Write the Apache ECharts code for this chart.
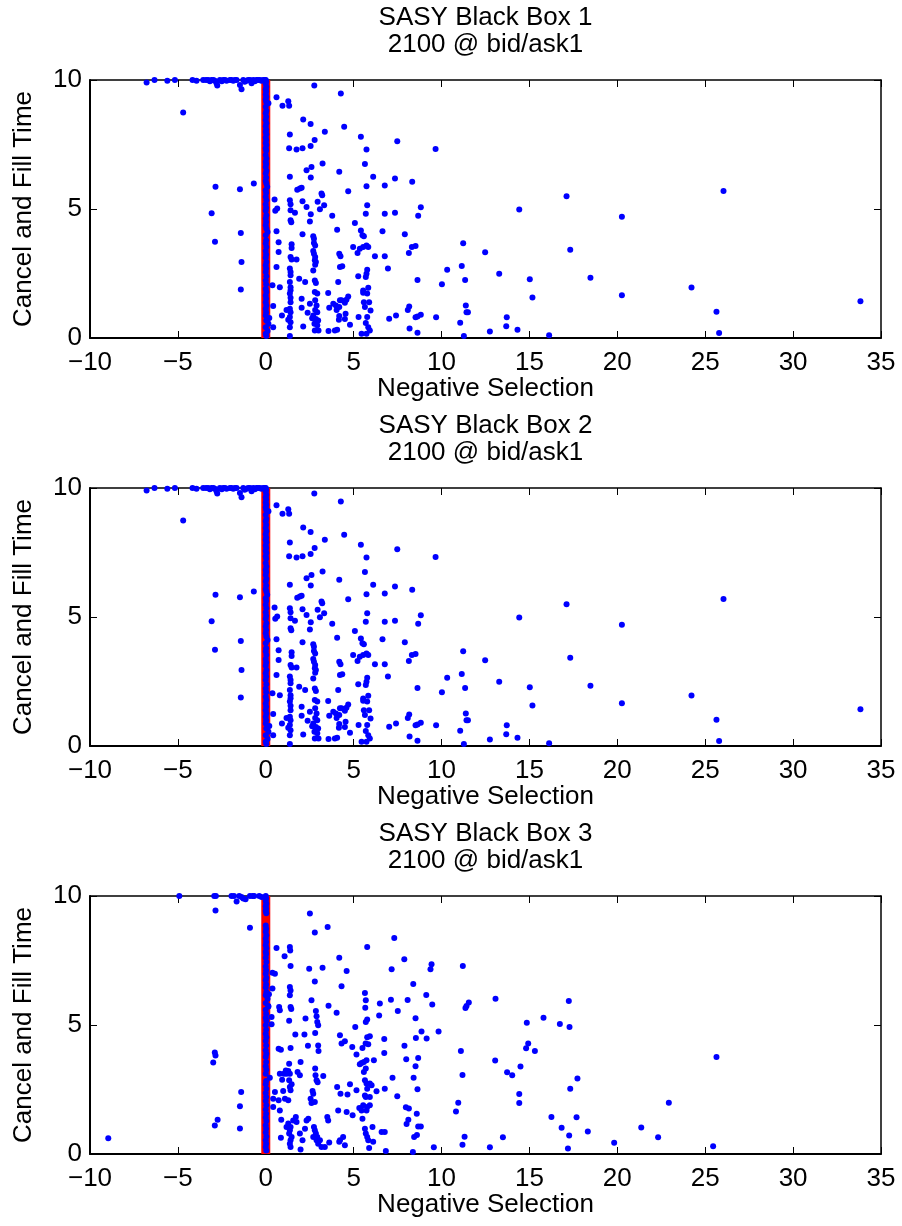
<!DOCTYPE html>
<html>
<head>
<meta charset="utf-8">
<script src="https://cdn.jsdelivr.net/npm/echarts@6/dist/echarts.min.js"></script>
<style>
html, body { margin: 0; padding: 0; background: #fff; }
#chart { width: 902px; height: 1226px; }
</style>
</head>
<body>
<div id="chart"></div>
<script>
// ---- texts ----
const panelTitles = ['SASY Black Box 1', 'SASY Black Box 2', 'SASY Black Box 3'];
const panelSubtitle = '2100 @ bid/ask1';
const xAxisTitle = 'Negative Selection';
const yAxisTitle = 'Cancel and Fill Time';

// ---- axis ranges / tick steps ----
const xRange = [-10, 35];
const xStep = 5;
const yRange = [0, 10];
const yStep = 5;

// ---- boxes 1 and 2: negative side (incl. the row capped at 10) ----
const box12Left = [
  [-6.78,9.90],[-6.33,10.0],[-5.60,9.97],[-5.17,10.0],[-4.17,10.0],[-3.94,9.97],[-3.56,10.0],
  [-3.40,10.0],[-3.28,10.0],[-3.18,9.95],[-3.09,10.0],[-2.98,10.0],[-2.90,9.97],[-2.80,9.87],
  [-2.76,9.79],[-2.61,10.0],[-2.50,9.95],[-2.42,10.0],[-2.32,10.0],[-2.23,9.97],[-2.04,10.0],
  [-1.95,10.0],[-1.85,9.97],[-1.75,10.0],[-1.66,10.0],[-1.47,9.81],[-1.38,9.64],[-1.28,10.0],
  [-1.20,9.93],[-1.09,9.97],[-1.00,10.0],[-0.90,10.0],[-0.81,9.87],[-0.71,10.0],[-0.62,9.95],
  [-0.53,10.0],[-0.44,10.0],[-0.34,10.0],[-0.25,9.97],[-0.15,10.0],[-0.06,10.0],
  [-4.70,8.74],[-2.86,5.86],[-1.47,5.77],[-0.68,5.99],[-3.08,4.84],[-2.89,3.73],
  [-1.42,4.07],[-1.38,2.95],[-1.42,1.88]
];
// ---- boxes 1 and 2: the column at zero ----
const box12Zero = [
  [0,10.0],[0.02,9.94],[0,9.85],[0.03,9.74],[0,9.64],[0.02,9.55],[0,9.44],[0.03,9.35],[0,9.25],
  [0.02,9.16],[0.15,9.10],[0,8.96],[0.03,8.81],[0,8.71],[0.02,8.58],[0,8.45],[0.03,8.32],[0,8.21],
  [0.02,8.08],[0,7.99],[0.03,7.90],[0,7.77],[0.02,7.67],[0,7.56],[0.03,7.48],[0,7.35],[0.02,7.26],
  [0,7.09],[0.03,6.96],[0,6.83],[0.02,6.74],[0,6.63],[0.03,6.48],[0,6.38],[0.02,6.22],[0,6.09],
  [0.03,5.99],[0.08,5.86],[0,5.73],[0.02,5.62],[0,5.47],[0.03,5.34],[0,5.18],[0.02,5.05],[0,4.93],
  [0.03,4.76],[0,4.63],[0.02,4.50],[0,4.37],[0.03,4.24],[0.10,4.11],[0,3.98],[0.02,3.79],[0,3.66],
  [0.03,3.53],[0,3.37],[0.02,3.24],[0,3.11],[0.03,2.95],[0,2.82],[0.02,2.69],[0,2.56],[0.03,2.39],
  [0,2.23],[0.02,2.08],[0,1.91],[0.03,1.78],[0,1.65],[0.02,1.52],[0,1.39],[0.03,1.26],[0,1.13],
  [0.02,1.00],[0,0.87],[0.20,0.78],[0.03,0.68],[0.15,0.55],[0,0.42],[0.10,0.27],[0,0.16],[0.03,0.08]
];
// ---- boxes 1 and 2: positive side ----
const box12Right = [
  [0.38,2.04],[0.42,1.24],[0.42,0.42],[0.50,5.37],[0.54,4.93],[0.61,9.33],[0.65,5.02],[0.61,4.14],
  [0.73,3.71],[0.73,3.33],[0.61,2.75],[0.80,1.97],[0.92,0.87],[0.95,9.00],[1.28,9.18],[1.33,9.00],
  [1.37,7.89],[1.33,7.35],[1.37,6.25],[1.37,5.34],[1.41,5.18],[1.41,4.95],[1.41,4.56],[1.45,4.49],
  [1.47,3.63],[1.47,3.49],[1.41,3.14],[1.47,3.04],[1.37,2.69],[1.41,2.56],[1.41,2.43],[1.37,2.17],
  [1.41,1.97],[1.41,1.85],[1.37,1.72],[1.41,1.56],[1.41,1.39],[1.37,1.13],[1.41,1.00],[1.37,0.81],
  [1.41,0.61],[1.37,0.42],[1.37,0.08],[1.18,1.09],[1.28,0.71],[1.75,7.31],[1.75,3.04],[1.66,4.85],
  [1.79,5.75],[1.90,2.30],[1.94,5.79],[2.04,5.82],[2.04,1.52],[2.04,1.17],[2.09,4.02],[2.09,5.30],
  [2.13,0.45],[2.13,8.47],[2.09,7.35],[2.24,2.17],[2.32,5.08],[2.32,6.50],[2.38,0.98],[2.51,4.52],
  [2.55,8.29],[2.55,7.44],[2.60,6.63],[2.56,6.22],[2.56,4.80],[2.51,1.33],[2.64,0.77],[2.70,3.94],
  [2.74,3.85],[2.74,3.68],[2.70,3.37],[2.74,3.27],[2.81,3.14],[2.70,2.62],[2.79,3.01],[2.85,2.95],
  [2.81,2.84],[2.76,9.79],[2.78,7.67],[2.81,3.59],[2.79,2.23],[2.85,2.13],[2.79,1.78],[2.93,1.72],
  [2.81,1.46],[2.89,1.26],[2.81,1.09],[2.93,1.00],[2.70,0.87],[2.85,0.74],[2.98,0.68],[2.77,0.55],
  [2.93,0.49],[2.79,0.29],[3.00,0.29],[2.95,5.28],[3.08,4.99],[3.17,5.60],[3.21,5.53],[3.23,6.76],
  [3.32,5.15],[3.36,7.99],[3.55,1.74],[3.57,0.27],[3.61,1.17],[3.78,4.74],[3.84,1.33],[3.99,1.26],
  [4.03,1.09],[3.93,0.29],[4.06,0.32],[4.06,4.20],[4.12,2.17],[4.18,6.44],[4.18,3.27],[4.25,3.17],
  [4.22,2.75],[4.27,9.48],[4.22,1.46],[4.18,1.20],[4.31,1.46],[4.18,0.85],[4.16,0.71],[4.35,2.78],
  [4.46,8.19],[4.50,1.37],[4.59,1.48],[4.69,1.61],[4.69,5.69],[4.54,0.94],[4.50,0.74],[4.79,0.51],
  [4.97,3.53],[5.07,4.46],[5.26,2.39],[5.28,0.81],[5.41,7.80],[5.41,4.17],[5.50,3.98],[5.58,3.94],
  [5.45,0.16],[5.54,1.84],[5.54,1.75],[5.58,1.39],[5.64,1.20],[5.64,6.74],[5.69,4.82],[5.73,7.31],
  [5.73,5.88],[5.77,5.15],[5.22,3.29],[5.35,3.46],[5.54,3.53],[5.73,3.59],[5.83,3.53],[5.77,2.65],
  [5.73,2.49],[5.69,2.36],[5.77,0.81],[5.69,0.58],[5.83,0.42],[5.92,0.29],[5.73,0.16],[5.83,1.95],
  [5.77,1.72],[5.88,1.39],[5.96,1.07],[6.11,6.25],[6.21,3.17],[6.64,4.14],[6.77,5.91],[6.77,4.82],
  [6.77,3.17],[6.95,2.69],[7.02,0.75],[7.35,6.18],[7.35,4.85],[7.41,0.87],[7.48,7.63],
  [9.66,7.33],[8.33,6.06],[8.67,4.74],[8.82,5.07],[7.91,4.02],[8.31,3.53],[8.52,3.57],[8.14,3.29],
  [8.63,2.25],[10.02,2.08],[10.32,2.65],[11.15,2.79],[11.23,3.67],[11.34,2.25],[12.48,3.32],
  [13.28,2.49],[14.42,4.98],[15.02,2.28],[15.17,1.57],[17.11,5.49],[17.32,3.42],[18.47,2.34],
  [20.26,4.70],[20.26,1.66],[24.22,1.96],[26.04,5.70],[25.64,1.02],[25.79,0.19],[33.83,1.42],
  [8.08,1.09],[8.16,1.22],[8.18,0.37],[8.52,0.80],[8.63,0.83],[8.82,0.90],[8.63,0.20],[9.69,0.80],
  [11.06,0.59],[11.27,0.08],[11.38,1.26],[11.42,1.00],[11.50,1.00],[12.75,0.25],[13.71,0.80],
  [13.68,0.46],[14.32,0.32],[16.12,0.11]
];

// ---- box 3: negative side ----
const box3Left = [
  [-4.92,10.0],[-2.93,10.0],[-2.84,10.0],[-2.86,9.44],[-1.95,10.0],[-1.81,10.0],[-1.66,9.79],
  [-1.51,10.0],[-1.38,9.96],[-1.28,9.90],[-1.15,9.87],[-0.90,10.0],[-0.75,10.0],[-0.66,10.0],
  [-0.37,10.0],[-0.24,9.96],[-0.90,8.77],[-8.96,0.61],[-2.99,3.55],[-2.90,3.93],[-2.86,3.82],
  [-2.90,1.10],[-2.74,1.33],[-1.47,1.85],[-1.40,2.40],[-1.47,0.99]
];
// ---- box 3: the column at zero ----
const box3Zero = [
  [0,10.0],[0.02,9.90],[0,9.81],[0.03,9.70],[0,9.60],[0.02,9.51],[0,9.42],[0.03,9.33],[0,8.86],
  [0.02,8.73],[0,8.61],[0.03,8.48],[0,8.35],[0.02,8.22],[0,8.09],[0.03,7.97],[0,7.84],[0.02,7.75],
  [0,7.61],[0.03,7.44],[0,7.27],[0.02,7.12],[0,6.99],[0.03,6.83],[0,6.73],[0.02,6.58],[0,6.45],
  [0.03,6.28],[0,6.15],[0.10,6.02],[0,5.85],[0.15,5.72],[0,5.59],[0.02,5.44],[0,5.28],[0.03,5.16],
  [0,4.99],[0.02,4.82],[0,4.66],[0.03,4.53],[0,4.38],[0.02,4.21],[0,4.02],[0.03,3.89],[0,3.76],
  [0.02,3.57],[0,3.40],[0.03,3.27],[0,3.11],[0.02,2.83],[0,2.70],[0.03,2.53],[0,2.36],[0.02,2.21],
  [0,2.05],[0.03,1.89],[0,1.72],[0.02,1.56],[0,1.41],[0.03,1.28],[0,1.11],[0.02,0.98],[0,0.83],
  [0.03,0.68],[0,0.53],[0.02,0.40],[0,0.27],[0.03,0.14]
];
// ---- box 3: positive side ----
const box3Right = [
  [0.23,2.96],[0.18,6.19],[0.14,5.74],[0.33,5.31],[0.33,5.03],[0.38,7.03],[0.52,6.99],[0.38,6.41],
  [0.42,1.82],[0.52,2.40],[0.42,2.14],[0.61,7.98],[0.76,5.70],[0.80,5.57],[0.73,4.08],[0.86,4.04],
  [0.80,3.11],[0.93,2.88],[1.03,3.11],[0.86,0.63],[0.88,1.33],[0.80,1.69],[0.73,2.08],[1.07,7.66],
  [1.14,3.24],[1.18,3.11],[1.28,3.22],[1.37,3.11],[0.99,2.44],[1.09,2.14],[1.37,2.60],[1.41,2.47],
  [1.28,2.08],[1.37,8.02],[1.39,7.89],[1.41,7.29],[1.37,6.47],[1.41,6.34],[1.37,6.15],[1.41,5.70],
  [1.45,5.62],[1.33,5.16],[1.41,4.11],[1.33,3.50],[1.33,2.86],[1.47,2.70],[1.18,1.05],[1.28,1.18],
  [1.41,1.05],[1.37,0.92],[1.33,0.79],[1.47,0.66],[1.41,0.53],[1.37,0.40],[1.41,0.27],[1.56,1.30],
  [1.71,1.43],[1.75,1.24],[1.68,4.63],[1.81,3.18],[1.94,3.05],[1.98,3.57],[1.94,0.79],[1.98,0.17],
  [2.09,0.53],[2.20,4.63],[2.26,5.25],[2.23,0.98],[2.32,1.30],[2.42,1.37],[2.40,4.20],[2.47,7.18],
  [2.51,9.32],[2.55,2.14],[2.60,1.98],[2.60,5.96],[2.66,2.44],[2.70,2.34],[2.79,2.02],[2.74,1.05],
  [2.79,0.92],[2.85,0.79],[2.93,0.66],[2.89,0.53],[2.98,0.40],[2.70,0.66],[2.79,8.59],[2.79,6.69],
  [2.81,4.69],[2.85,5.54],[2.89,5.34],[2.93,5.12],[2.98,4.99],[2.98,4.21],[3.00,3.99],[2.81,3.31],
  [2.83,3.05],[2.89,2.86],[2.95,2.78],[3.08,0.53],[3.17,0.27],[3.36,0.27],[3.23,7.22],[3.27,3.02],
  [3.50,1.43],[3.55,1.30],[3.52,8.80],[3.57,5.75],[3.61,0.45],[4.03,5.47],[4.06,2.60],[4.12,1.69],
  [4.18,7.61],[4.22,4.60],[4.31,4.28],[4.50,4.37],[4.22,0.53],[4.18,0.47],[4.40,0.66],[4.50,0.34],
  [4.25,2.34],[4.31,6.50],[4.60,7.09],[4.65,2.31],[4.79,2.70],[4.60,1.63],[4.94,1.50],[4.92,4.15],
  [5.09,4.92],[5.16,3.86],[5.16,2.47],[5.32,1.78],[5.45,1.69],[5.50,1.37],[5.54,1.89],[5.35,3.48],
  [5.45,3.53],[5.58,3.57],[5.69,3.31],[5.58,3.18],[5.50,4.11],[5.64,2.86],[5.64,6.24],[5.69,5.96],
  [5.66,5.67],[5.69,5.12],[5.77,5.21],[5.68,4.28],[5.77,4.53],[5.92,4.56],[5.83,4.25],[5.73,3.63],
  [5.73,2.73],[5.77,2.53],[5.92,2.73],[6.02,2.66],[5.64,2.27],[5.69,2.21],[5.77,1.82],[5.73,1.69],
  [5.92,1.89],[5.92,2.21],[5.64,0.98],[5.69,0.79],[5.77,0.66],[5.83,0.53],[5.88,0.23],[6.11,0.47],
  [6.07,1.05],[5.77,8.02],[6.15,3.63],[6.30,2.43],[6.45,5.37],[6.49,5.83],[6.59,0.85],[6.77,0.85],
  [6.74,4.46],[6.74,3.91],[6.77,2.53],[6.83,0.12],[7.12,5.98],[7.16,7.16],[7.21,2.96],[7.31,8.37],
  [7.48,2.24],
  [7.88,7.55],[8.39,6.59],[8.07,5.97],[7.51,5.54],[8.52,5.26],[9.13,6.16],[9.37,7.16],[9.43,7.35],
  [9.47,5.79],[11.21,7.29],[11.36,5.66],[11.55,5.87],[11.42,5.74],[13.07,6.02],[17.24,5.93],
  [17.28,4.92],[15.80,5.28],[16.73,5.04],[14.85,5.09],[8.86,4.75],[8.54,4.50],[9.15,4.48],
  [9.83,4.75],[7.89,4.20],[7.99,3.67],[8.67,3.72],[8.52,3.40],[8.41,2.96],[8.63,2.51],[11.10,3.99],
  [11.19,3.06],[13.05,3.62],[14.93,4.28],[14.81,4.10],[15.31,3.99],[13.73,3.17],[14.02,3.05],
  [14.49,3.39],[17.73,2.93],[17.32,2.53],[14.42,2.33],[14.42,1.98],[10.95,1.99],[10.82,1.65],
  [7.97,1.81],[8.14,1.76],[8.59,1.56],[8.11,1.33],[8.01,1.16],[8.67,1.07],[8.82,1.07],[8.44,0.66],
  [8.60,0.74],[8.37,0.08],[9.56,0.26],[11.19,0.36],[11.31,0.67],[12.75,0.26],[13.49,0.65],
  [16.25,1.43],[16.83,1.02],[17.68,1.42],[17.26,0.72],[17.19,0.21],[18.32,0.87],[19.82,0.44],
  [21.36,1.03],[22.32,0.65],[22.93,1.99],[25.45,0.30],[25.64,3.76]
];

// vertical reference line at zero selection
const zeroLine = [[0, 0], [0, 10]];

// ---- layout ----
const FONT = '"Liberation Sans", Arial, Helvetica, sans-serif';
const plotLeft = 90, plotWidth = 791, plotHeight = 258;
const panelTops = [80, 488, 896];
const panelData = [
  [box12Left, box12Zero, box12Right],
  [box12Left, box12Zero, box12Right],
  [box3Left, box3Zero, box3Right]
];

const minusFmt = v => String(v).replace('-', '\u2212');
const grids = [], xAxes = [], yAxes = [], series = [], graphics = [];

panelTops.forEach((top, i) => {
  grids.push({ left: plotLeft, top: top, width: plotWidth, height: plotHeight, show: false });
  const line = w => ({ show: true, onZero: false, lineStyle: { color: '#000', width: w } });
  const tick = { show: true, inside: true, length: 7, lineStyle: { color: '#000', width: 1 } };
  const common = { gridIndex: i, type: 'value', axisTick: tick, splitLine: { show: false } };
  xAxes.push(Object.assign({}, common, {
    min: xRange[0], max: xRange[1], interval: xStep, position: 'bottom', axisLine: line(2),
    axisLabel: { color: '#000', fontSize: 26, fontFamily: FONT, margin: 12, formatter: minusFmt }
  }));
  xAxes.push(Object.assign({}, common, {
    min: xRange[0], max: xRange[1], interval: xStep, position: 'top', axisLine: line(1.5),
    axisLabel: { show: false }
  }));
  yAxes.push(Object.assign({}, common, {
    min: yRange[0], max: yRange[1], interval: yStep, position: 'left', axisLine: line(2),
    axisLabel: { color: '#000', fontSize: 26, fontFamily: FONT, margin: 8 }
  }));
  yAxes.push(Object.assign({}, common, {
    min: yRange[0], max: yRange[1], interval: yStep, position: 'right', axisLine: line(1.5),
    axisLabel: { show: false }
  }));

  series.push({
    type: 'line', xAxisIndex: 2 * i, yAxisIndex: 2 * i, data: zeroLine,
    symbol: 'none', silent: true, z: 1,
    lineStyle: { color: '#ff0000', width: 9, cap: 'butt' }
  });
  panelData[i].forEach(pts => {
    series.push({
      type: 'scatter', xAxisIndex: 2 * i, yAxisIndex: 2 * i, data: pts,
      symbolSize: 6, clip: false, z: 2, silent: true,
      itemStyle: { color: '#0000ff', opacity: 1 }
    });
  });

  const txt = (text, x, y, rot) => ({
    type: 'text', x: x, y: y, rotation: rot || 0, silent: true,
    style: { text: text, font: '26px ' + FONT, fill: '#000', align: 'center', verticalAlign: 'middle' }
  });
  const cx = plotLeft + plotWidth / 2;
  graphics.push(txt(panelTitles[i], cx, top - 62));
  graphics.push(txt(panelSubtitle, cx, top - 35.5));
  graphics.push(txt(xAxisTitle, cx, top + plotHeight + 51));
  graphics.push(txt(yAxisTitle, 24, top + plotHeight / 2, Math.PI / 2));
});

const chart = echarts.init(document.getElementById('chart'), null, { renderer: 'canvas' });
chart.setOption({
  animation: false,
  backgroundColor: '#fff',
  grid: grids,
  xAxis: xAxes,
  yAxis: yAxes,
  series: series,
  graphic: graphics
});
</script>
</body>
</html>
